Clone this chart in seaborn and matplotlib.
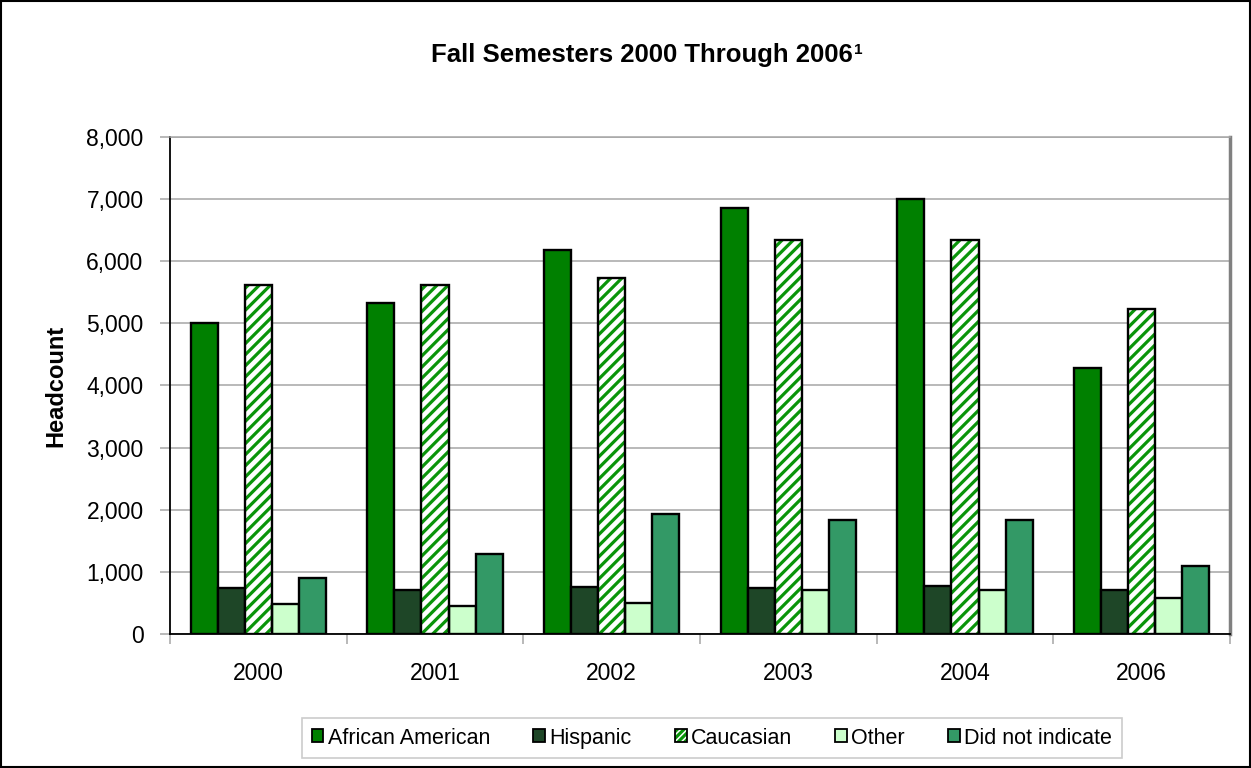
import numpy as np
import pandas as pd
import matplotlib
matplotlib.use("Agg")
import matplotlib.pyplot as plt
import seaborn as sns
from matplotlib.patches import Patch, Rectangle
from matplotlib.legend_handler import HandlerTuple

years = ["2000", "2001", "2002", "2003", "2004", "2006"]
groups = ["African American", "Hispanic", "Caucasian", "Other", "Did not indicate"]
african_american = [5000, 5330, 6180, 6860, 7000, 4280]
hispanic = [740, 700, 750, 740, 780, 700]
caucasian = [5620, 5620, 5730, 6345, 6340, 5230]
other = [480, 450, 500, 710, 700, 580]
did_not_indicate = [900, 1285, 1930, 1840, 1840, 1100]
y_ticks = [0, 1000, 2000, 3000, 4000, 5000, 6000, 7000, 8000]

colors = ["#008000", "#1E4627", "#FFFFFF", "#CCFFCC", "#339966"]
hatch_green = "#0A940A"

sns.set_style("white")
plt.rcParams["font.family"] = ["Liberation Sans", "DejaVu Sans"]
plt.rcParams["text.color"] = "black"
plt.rcParams["xtick.color"] = "black"
plt.rcParams["ytick.color"] = "black"
plt.rcParams["axes.labelcolor"] = "black"
plt.rcParams["hatch.linewidth"] = 2.3

df = pd.DataFrame({
    "Year": years * 5,
    "Group": sum([[g] * len(years) for g in groups], []),
    "Headcount": african_american + hispanic + caucasian + other + did_not_indicate,
})

fig = plt.figure(figsize=(12.51, 7.68), dpi=100)
ax = fig.add_axes([0.1359, 0.1745, 0.8473, 0.6471])

sns.barplot(data=df, x="Year", y="Headcount", hue="Group", order=years,
            hue_order=groups, palette=colors, width=0.765, edgecolor="black",
            linewidth=1.7, saturation=1, ax=ax, legend=False, zorder=3)


def overlay(container, face, hcolor, hatch):
    for p in container.patches:
        p.set_facecolor(face)
        p.set_edgecolor(hcolor)
        p.set_hatch(hatch)
        p.set_linewidth(0)
        ax.add_patch(Rectangle(p.get_xy(), p.get_width(), p.get_height(), fill=False,
                               edgecolor="black", linewidth=1.7, zorder=4))


overlay(ax.containers[2], "white", hatch_green, "///")

ax.set_ylim(0, 8000)
ax.set_xlim(-0.5, len(years) - 0.5)
ax.set_yticks(y_ticks)
ax.set_yticklabels([f"{v:,}" for v in y_ticks])
ax.yaxis.grid(True, color="#A6A6A6", linewidth=1.1, zorder=0)
ax.set_axisbelow(True)

for s in ax.spines.values():
    s.set_visible(True)
for s in ["left", "bottom"]:
    ax.spines[s].set_color("black")
    ax.spines[s].set_linewidth(1.3)
ax.spines["top"].set_color("#A6A6A6")
ax.spines["top"].set_linewidth(1.1)
ax.spines["right"].set_color("#808080")
ax.spines["right"].set_linewidth(2.5)

ax.tick_params(axis="y", which="major", length=7, color="#A6A6A6", width=1.1,
               labelsize=16.5, pad=12, direction="out", left=True, labelcolor="black")
ax.tick_params(axis="x", which="major", length=0, labelsize=16.5, pad=20, labelcolor="black")
ax.set_xticks(np.arange(-0.5, len(years), 1.0), minor=True)
ax.tick_params(axis="x", which="minor", length=7, color="#A6A6A6", width=1.1,
               direction="out", bottom=True)

ax.set_xlabel("")
ax.set_ylabel("Headcount", fontsize=17, fontweight="bold", labelpad=14, color="black")

t = fig.text(0.513, 0.928, "Fall Semesters 2000 Through 2006", ha="center",
             va="center", fontsize=18.5, fontweight="bold", color="black")
ax.annotate("1", xy=(1.0, 1.0), xycoords=t, xytext=(1, 0), textcoords="offset points",
            ha="left", va="top", fontsize=11, fontweight="bold", annotation_clip=False,
            color="black")

handles = []
for g, c in zip(groups, colors):
    if g == "Caucasian":
        handles.append((Patch(facecolor="white", edgecolor=hatch_green, hatch="/////", linewidth=0),
                        Patch(fill=False, edgecolor="black", linewidth=1.3)))
    else:
        handles.append(Patch(facecolor=c, edgecolor="black", linewidth=1.3))
leg = fig.legend(handles, groups, loc="center", bbox_to_anchor=(0.569, 0.039), ncol=5,
                 fontsize=15.5, frameon=True, fancybox=False, edgecolor="#BFBFBF",
                 handlelength=0.55, handleheight=0.55, handletextpad=0.2,
                 columnspacing=2.0, borderpad=0.45,
                 handler_map={tuple: HandlerTuple(ndivide=1)})
leg.get_frame().set_linewidth(1.2)
for txt in leg.get_texts():
    txt.set_color("black")

fig.patches.append(Rectangle((0.0008, 0.0013), 0.9984, 0.9974, transform=fig.transFigure,
                             fill=False, edgecolor="black", linewidth=1.5))

fig.savefig("out.png", dpi=100)
